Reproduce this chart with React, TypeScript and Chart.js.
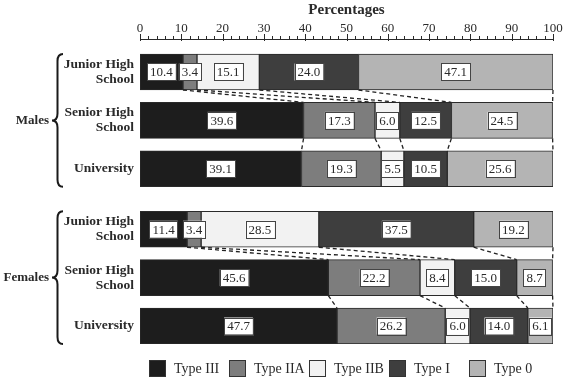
import React, { useEffect, useRef } from 'react';
import { Chart, registerables } from 'chart.js';
Chart.register(...registerables);

const types = ['Type III', 'Type IIA', 'Type IIB', 'Type I', 'Type 0'];
const colors = ['#1d1d1d', '#7d7d7d', '#f2f2f2', '#3e3e3e', '#b4b4b4'];
const rowLabels = [['Junior High', 'School'], ['Senior High', 'School'], ['University']];
const groups = ['Males', 'Females'];

const maleJunior = [10.4, 3.4, 15.1, 24.0, 47.1];
const maleSenior = [39.6, 17.3, 6.0, 12.5, 24.5];
const maleUniversity = [39.1, 19.3, 5.5, 10.5, 25.6];
const femaleJunior = [11.4, 3.4, 28.5, 37.5, 19.2];
const femaleSenior = [45.6, 22.2, 8.4, 15.0, 8.7];
const femaleUniversity = [47.7, 26.2, 6.0, 14.0, 6.1];

const rows = [maleJunior, maleSenior, maleUniversity, femaleJunior, femaleSenior, femaleUniversity];
const rowPos = [0, 1, 2, 3.25, 4.25, 5.25];

const SERIF = "'Liberation Serif', 'Times New Roman', serif";
const INK = '#2a2a2a';

const overlayPlugin = {
  id: 'overlay',
  afterDatasetsDraw(chart: any) {
    const ctx = chart.ctx;
    const n = types.length;
    const metas = types.map((_, i) => chart.getDatasetMeta(i));
    ctx.save();
    // connectors
    ctx.strokeStyle = '#222';
    ctx.lineWidth = 1.3;
    ctx.setLineDash([4, 3]);
    for (let g = 0; g < 2; g++) {
      for (let r = 0; r < 2; r++) {
        const a = g * 3 + r;
        const b = a + 1;
        for (let i = 0; i < n; i++) {
          const ea = metas[i].data[a];
          const eb = metas[i].data[b];
          ctx.beginPath();
          ctx.moveTo(ea.x, ea.y + ea.height / 2);
          ctx.lineTo(eb.x, eb.y - eb.height / 2);
          ctx.stroke();
        }
      }
    }
    ctx.setLineDash([]);
    // value labels
    ctx.font = `13px ${SERIF}`;
    ctx.textAlign = 'center';
    ctx.textBaseline = 'middle';
    for (let i = 0; i < n; i++) {
      metas[i].data.forEach((el: any, j: number) => {
        const v = rows[j][i];
        const txt = v.toFixed(1);
        const cx = (el.x + el.base) / 2;
        const cy = el.y;
        const w = ctx.measureText(txt).width + 6;
        const h = 17;
        ctx.fillStyle = '#ffffff';
        ctx.fillRect(cx - w / 2, cy - h / 2, w, h);
        ctx.strokeStyle = '#444';
        ctx.lineWidth = 1;
        ctx.strokeRect(Math.round(cx - w / 2) + 0.5, Math.round(cy - h / 2) + 0.5, Math.round(w), h);
        ctx.fillStyle = INK;
        ctx.fillText(txt, cx, cy + 1);
      });
    }
    ctx.restore();
  },
  afterDraw(chart: any) {
    const ctx = chart.ctx;
    const xs = chart.scales.x;
    const area = chart.chartArea;
    const meta0 = chart.getDatasetMeta(0);
    ctx.save();
    // axis tick marks
    ctx.strokeStyle = INK;
    ctx.lineWidth = 1;
    const axisY = area.top;
    for (let v = 0; v <= 100; v += 2) {
      const px = Math.round(xs.getPixelForValue(v)) + 0.5;
      ctx.beginPath();
      if (v % 10 === 0) {
        ctx.moveTo(px, axisY - 5);
        ctx.lineTo(px, axisY + 2);
      } else {
        ctx.moveTo(px, axisY - 3);
        ctx.lineTo(px, axisY);
      }
      ctx.stroke();
    }
    // braces and group labels
    for (let g = 0; g < 2; g++) {
      const first = meta0.data[g * 3];
      const last = meta0.data[g * 3 + 2];
      const top = first.y - first.height / 2;
      const bottom = last.y + last.height / 2;
      const mid = (top + bottom) / 2;
      const xr = 63, xs2 = 57.5, xt = 52, r = 7;
      ctx.beginPath();
      ctx.moveTo(xr, top);
      ctx.quadraticCurveTo(xs2, top, xs2, top + r);
      ctx.lineTo(xs2, mid - r);
      ctx.quadraticCurveTo(xs2, mid, xt, mid);
      ctx.quadraticCurveTo(xs2, mid, xs2, mid + r);
      ctx.lineTo(xs2, bottom - r);
      ctx.quadraticCurveTo(xs2, bottom, xr, bottom);
      ctx.lineWidth = 2;
      ctx.strokeStyle = '#1a1a1a';
      ctx.stroke();
      ctx.font = `bold 13px ${SERIF}`;
      ctx.fillStyle = INK;
      ctx.textAlign = 'right';
      ctx.textBaseline = 'middle';
      ctx.fillText(groups[g], 49, mid);
    }
    // legend
    const ly = 368;
    ctx.font = `14px ${SERIF}`;
    ctx.textAlign = 'left';
    ctx.textBaseline = 'middle';
    types.forEach((t, i) => {
      const bx = 149 + i * 80;
      ctx.fillStyle = colors[i];
      ctx.fillRect(bx, ly - 8, 16, 16);
      ctx.strokeStyle = '#333';
      ctx.lineWidth = 1;
      ctx.strokeRect(bx + 0.5, ly - 7.5, 16, 16);
      ctx.fillStyle = INK;
      ctx.fillText(t, bx + 25, ly + 1);
    });
    ctx.restore();
  },
};

export default function App() {
  const ref = useRef<HTMLCanvasElement | null>(null);
  useEffect(() => {
    if (!ref.current) return;
    const chart = new Chart(ref.current, {
      type: 'bar',
      data: {
        datasets: types.map((t, i) => ({
          label: t,
          data: rows.map((r, j) => ({ x: r[i], y: rowPos[j] })),
          backgroundColor: colors[i],
          borderColor: '#2a2a2a',
          borderWidth: 1,
          borderSkipped: false,
          barThickness: 36,
        })),
      },
      options: {
        indexAxis: 'y',
        responsive: false,
        animation: false,
        devicePixelRatio: 1,
        layout: { padding: { left: 0, right: 16, top: 0, bottom: 37 } },
        plugins: { legend: { display: false }, tooltip: { enabled: false } },
        scales: {
          x: {
            type: 'linear',
            position: 'top',
            stacked: true,
            min: 0,
            max: 100,
            offset: false,
            ticks: { stepSize: 10, color: INK, font: { family: SERIF, size: 13 }, padding: 3 },
            grid: { display: false, drawTicks: false },
            border: { display: true, color: INK, width: 1 },
            title: {
              display: true,
              text: 'Percentages',
              color: INK,
              font: { family: SERIF, size: 15, weight: 'bold' },
              padding: { top: 1, bottom: 0 },
            },
            afterFit: (s: any) => { s.height = 39; },
          },
          y: {
            type: 'linear',
            reverse: true,
            stacked: true,
            offset: false,
            min: -0.682,
            max: 5.622,
            afterBuildTicks: (s: any) => { s.ticks = rowPos.map((v) => ({ value: v })); },
            ticks: {
              autoSkip: false,
              color: INK,
              padding: 6,
              font: { family: SERIF, size: 13.5, weight: 'bold', lineHeight: 1.1 },
              callback: (_v: any, idx: number) => rowLabels[idx % 3],
            },
            grid: { display: false, drawTicks: false },
            border: { display: false },
            afterFit: (s: any) => { s.width = 140; },
          },
        },
      },
      plugins: [overlayPlugin],
    } as any);
    return () => chart.destroy();
  }, []);
  return (
    <div style={{ position: 'fixed', left: 0, top: 0, width: 569, height: 381, background: '#fff' }}>
      <canvas ref={ref} width={569} height={381} />
    </div>
  );
}
